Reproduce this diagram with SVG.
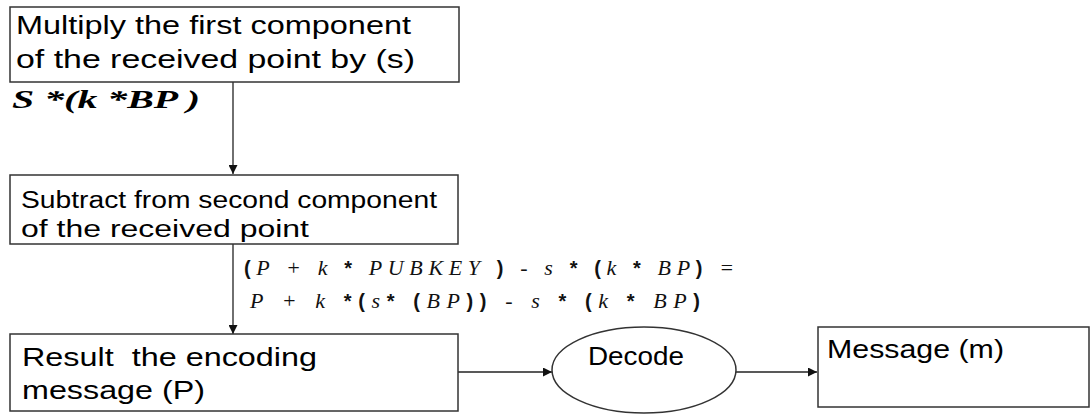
<svg xmlns="http://www.w3.org/2000/svg" width="1091" height="414" viewBox="0 0 1091 414">
  <style>
    .box { fill: #ffffff; stroke: #333333; stroke-width: 1.5; }
    .edge { fill: none; stroke: #222222; stroke-width: 1.3; }
    .lbl { font-family: "Liberation Sans", Arial, sans-serif; fill: #000000; }
    .big { font-size: 25px; }
    .mid { font-size: 23px; }
    .math { font-family: "Liberation Serif", "Times New Roman", serif; font-style: italic; font-size: 22px; fill: #111111; }
    .mb { font-family: "Liberation Sans", Arial, sans-serif; font-weight: bold; font-style: normal; font-size: 20px; }
    .eq { font-family: "Liberation Serif", "Times New Roman", serif; font-weight: bold; font-style: italic; font-size: 26px; fill: #000000; }
  </style>
  <defs>
    <marker id="arrow" viewBox="0 0 10 10" refX="10" refY="5" markerWidth="9" markerHeight="9" markerUnits="userSpaceOnUse" orient="auto">
      <path d="M0,0 L10,5 L0,10 z" fill="#111111"/>
    </marker>
  </defs>
  <rect width="1091" height="414" fill="#ffffff"/>

  <g id="connectors">
    <line class="edge" x1="233" y1="82" x2="233" y2="174" marker-end="url(#arrow)"/>
    <line class="edge" x1="233" y1="244" x2="233" y2="334" marker-end="url(#arrow)"/>
    <line class="edge" x1="458" y1="372" x2="552" y2="372" marker-end="url(#arrow)"/>
    <line class="edge" x1="736" y1="372" x2="817" y2="372" marker-end="url(#arrow)"/>
  </g>

  <g id="multiply">
    <rect class="box" x="10" y="7" width="449" height="75"/>
    <text class="lbl big" x="16" y="34" textLength="395" lengthAdjust="spacingAndGlyphs">Multiply the first component</text>
    <text class="lbl big" x="16" y="68" textLength="399" lengthAdjust="spacingAndGlyphs">of the received point by (s)</text>
  </g>

  <g id="product-label">
    <text class="eq" x="12" y="108" textLength="188" lengthAdjust="spacingAndGlyphs">S *(k *BP )</text>
  </g>

  <g id="subtract">
    <rect class="box" x="10" y="175" width="448" height="69"/>
    <text class="lbl mid" x="21" y="208" textLength="416" lengthAdjust="spacingAndGlyphs">Subtract from second component</text>
    <text class="lbl mid" x="21" y="237" textLength="288" lengthAdjust="spacingAndGlyphs">of the received point</text>
  </g>

  <g id="derivation">
    <text class="math" x="244" y="275" textLength="490" lengthAdjust="spacing"><tspan class="mb">(</tspan>P + k <tspan class="mb">*</tspan> PUBKEY <tspan class="mb">)</tspan> - s <tspan class="mb">*</tspan> <tspan class="mb">(</tspan>k <tspan class="mb">*</tspan> BP<tspan class="mb">)</tspan> =</text>
    <text class="math" x="250" y="308" textLength="450" lengthAdjust="spacing">P + k <tspan class="mb">*(</tspan>s<tspan class="mb">*</tspan> <tspan class="mb">(</tspan>BP<tspan class="mb">))</tspan> - s <tspan class="mb">*</tspan> <tspan class="mb">(</tspan>k <tspan class="mb">*</tspan> BP<tspan class="mb">)</tspan></text>
  </g>

  <g id="result">
    <rect class="box" x="10" y="334" width="448" height="77"/>
    <text class="lbl big" x="22" y="366" textLength="295" lengthAdjust="spacingAndGlyphs" xml:space="preserve">Result  the encoding</text>
    <text class="lbl big" x="22" y="399" textLength="183" lengthAdjust="spacingAndGlyphs">message (P)</text>
  </g>

  <g id="decode">
    <ellipse class="box" cx="644" cy="370" rx="92" ry="43"/>
    <text class="lbl big" x="588" y="365" textLength="96" lengthAdjust="spacingAndGlyphs">Decode</text>
  </g>

  <g id="message">
    <rect class="box" x="818" y="327" width="271" height="80"/>
    <text class="lbl big" x="827" y="358" textLength="177" lengthAdjust="spacingAndGlyphs">Message (m)</text>
  </g>
</svg>
